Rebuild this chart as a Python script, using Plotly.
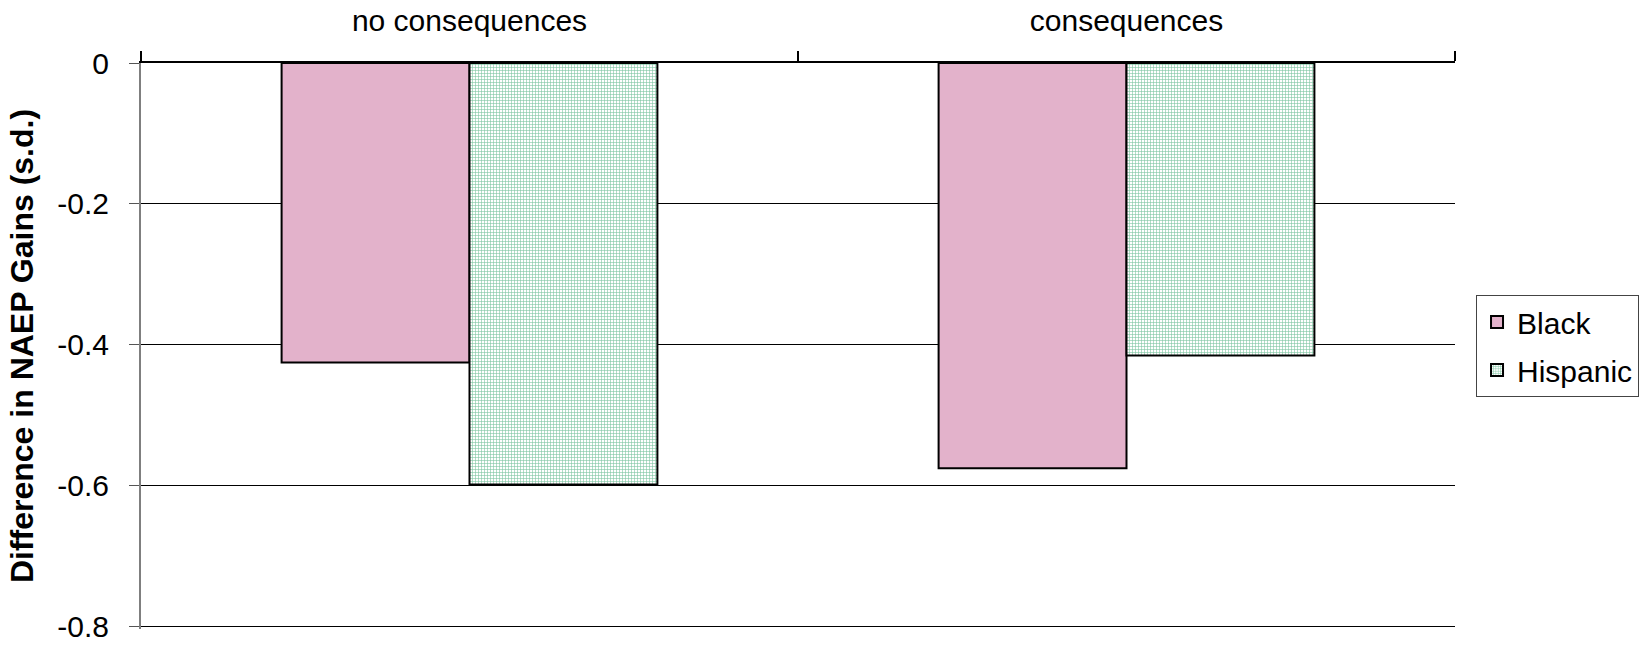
import plotly.graph_objects as go

categories = ["no consequences", "consequences"]
black_vals = [-0.425, -0.575]
hispanic_vals = [-0.598, -0.415]
series_names = ["Black", "Hispanic"]
y_tickvals = [0, -0.2, -0.4, -0.6, -0.8]
y_ticktext = ["0", "-0.2", "-0.4", "-0.6", "-0.8"]
y_title = "Difference in NAEP Gains (s.d.)"

FONT = "Liberation Sans, Arial, sans-serif"
FS = 30

fig = go.Figure()
fig.add_trace(go.Bar(
    x=categories, y=black_vals, name=series_names[0],
    legendgroup="b",
    marker=dict(
        color="#f2dbe6",
        line=dict(color="black", width=2),
        pattern=dict(shape=".", size=2, solidity=0.5, fgcolor="#c0508a", bgcolor="#ffffff", fillmode="replace"),
    ),
))
fig.add_trace(go.Bar(
    x=categories, y=hispanic_vals, name=series_names[1],
    legendgroup="h",
    marker=dict(
        color="#dff2e8",
        line=dict(color="black", width=2),
        pattern=dict(shape="+", size=3, solidity=0.35, fgcolor="#7cc4a0", bgcolor="#ffffff", fillmode="replace"),
    ),
))

fig.update_layout(
    width=1648, height=645,
    margin=dict(l=141, r=193, t=63, b=16, pad=0, autoexpand=False),
    paper_bgcolor="white", plot_bgcolor="white",
    barmode="group", bargap=0.428, bargroupgap=0,
    font=dict(family=FONT, size=FS, color="black"),
    showlegend=True,
    legend=dict(
        x=1.016, xanchor="left", y=0.50, yanchor="middle",
        bordercolor="#444", borderwidth=1,
        font=dict(family=FONT, size=FS, color="black"),
        traceorder="grouped", tracegroupgap=6,
        itemwidth=30,
    ),
    xaxis=dict(
        side="top", type="category", automargin=False,
        showline=True, linecolor="black", linewidth=1.5,
        ticks="outside", tickson="boundaries", ticklen=10, tickcolor="black", tickwidth=1.5,
        showgrid=False, ticklabelstandoff=18,
        tickfont=dict(family=FONT, size=FS, color="black"),
    ),
    yaxis=dict(
        range=[-0.803, 0], automargin=False,
        tickvals=y_tickvals, ticktext=y_ticktext,
        showgrid=True, gridcolor="black", gridwidth=1,
        zeroline=False,
        showline=True, linecolor="#7f7f7f", linewidth=2,
        ticks="outside", ticklen=10, tickcolor="#555", tickwidth=1,
        ticklabelstandoff=14,
        tickfont=dict(family=FONT, size=FS, color="black"),
        title=dict(text=y_title, standoff=14,
                   font=dict(family=FONT, size=32, color="black", weight="bold")),
    ),
)

fig.write_html("out.html")
